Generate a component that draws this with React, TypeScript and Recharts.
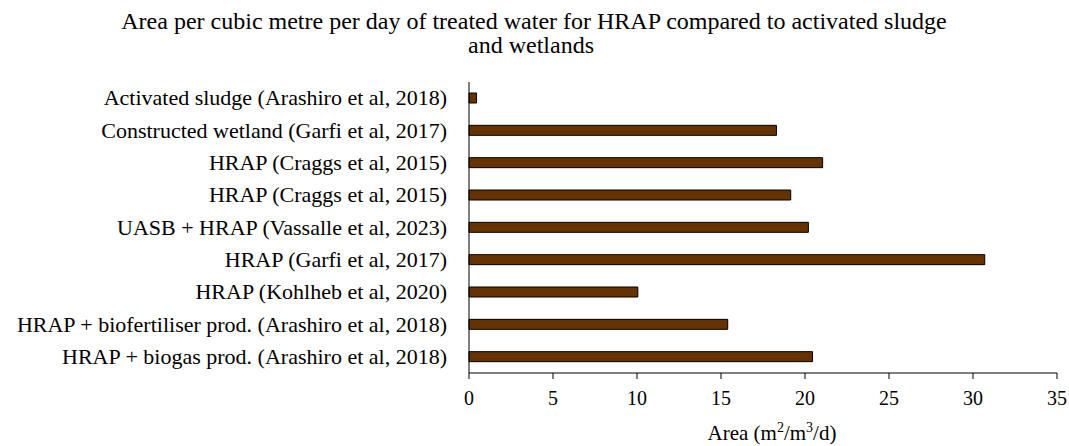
import React from 'react';
import { BarChart, Bar, XAxis, YAxis } from 'recharts';

const studies = [
  'Activated sludge (Arashiro et al, 2018)',
  'Constructed wetland (Garfi et al, 2017)',
  'HRAP (Craggs et al, 2015)',
  'HRAP (Craggs et al, 2015)',
  'UASB + HRAP (Vassalle et al, 2023)',
  'HRAP (Garfi et al, 2017)',
  'HRAP (Kohlheb et al, 2020)',
  'HRAP + biofertiliser prod. (Arashiro et al, 2018)',
  'HRAP + biogas prod. (Arashiro et al, 2018)',
];
const areaValues = [0.45, 18.3, 21.05, 19.15, 20.2, 30.7, 10.05, 15.4, 20.45];
const xTicks = [0, 5, 10, 15, 20, 25, 30, 35];

const FONT = '"Liberation Serif", "Times New Roman", serif';

const data = studies.map((name, i) => ({ id: `r${i}`, name, area: areaValues[i] }));

function StudyTick(props: any) {
  const { y, payload } = props;
  return (
    <text x={447} y={y} dy={7} textAnchor="end" fontFamily={FONT} fontSize={22} fill="#000">
      {studies[payload.index] ?? payload.value}
    </text>
  );
}

export default function App() {
  return (
    <div style={{ position: 'absolute', left: 0, top: 0, width: 1069, height: 446, background: '#fff' }}>
      <BarChart
        width={1069}
        height={446}
        data={data}
        layout="vertical"
        barCategoryGap={0}
        margin={{ top: 82, right: 12, bottom: 33, left: 0 }}
      >
        <text x={534} y={29} textAnchor="middle" fontFamily={FONT} fontSize={24} fill="#000">
          Area per cubic metre per day of treated water for HRAP compared to activated sludge
        </text>
        <text x={531} y={53} textAnchor="middle" fontFamily={FONT} fontSize={24} fill="#000">
          and wetlands
        </text>
        <XAxis
          type="number"
          domain={[0, 35]}
          ticks={xTicks}
          interval={0}
          height={40}
          stroke="#000"
          tickSize={6}
          tickMargin={12}
          tick={{ fill: '#000', fontFamily: FONT, fontSize: 20 }}
        />
        <YAxis
          type="category"
          dataKey="id"
          width={469}
          stroke="#000"
          tickLine={false}
          tick={<StudyTick />}
          interval={0}
        />
        <Bar dataKey="area" fill="#663300" stroke="#000" strokeWidth={1} barSize={10} isAnimationActive={false} />
        <text x={772} y={440} textAnchor="middle" fontFamily={FONT} fontSize={21} fill="#000">
          Area (m<tspan fontSize={14} dy={-8}>2</tspan>
          <tspan dy={8}>/m</tspan>
          <tspan fontSize={14} dy={-8}>3</tspan>
          <tspan dy={8}>/d)</tspan>
        </text>
      </BarChart>
    </div>
  );
}
